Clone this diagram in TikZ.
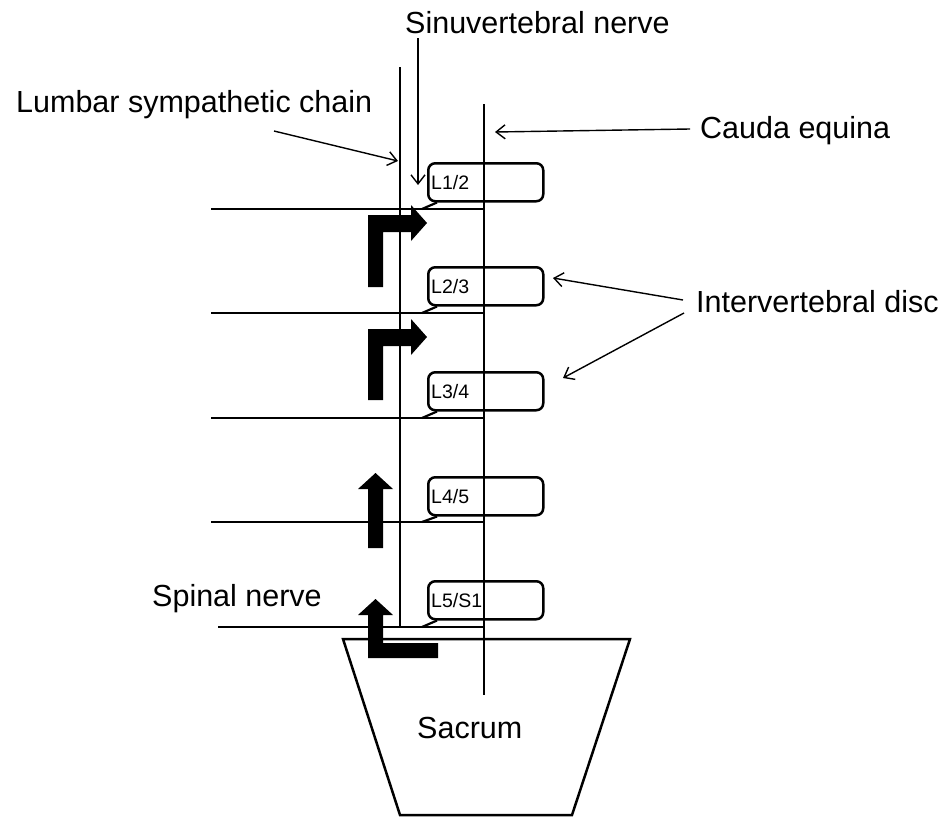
\documentclass[tikz,border=0pt]{standalone}
\usepackage{fontspec}
\setmainfont{Liberation Sans}
\usetikzlibrary{arrows.meta}
\begin{document}
\begin{tikzpicture}[x=1pt,y=-1pt,
  lbl/.style={font=\fontsize{30.5}{35}\selectfont, inner sep=0pt, anchor=base west},
  dlbl/.style={font=\fontsize{19.5}{22}\selectfont, inner sep=0pt, anchor=base west},
  nerveline/.style={line width=2.9pt},
  tail/.style={line width=2.2pt},
  disc/.style={draw, line width=2.5pt, rounded corners=7pt, minimum width=115pt, minimum height=38pt, inner sep=0pt, anchor=north west},
  ann/.style={line width=1.4pt, -{Straight Barb[length=9pt,width=14pt,line width=1.4pt]}},
  blk/.style={fill=black, draw=none}
]
\useasboundingbox (0,0) rectangle (945,817);

% vertical lines
\coordinate (chainTop) at (400,67);
\coordinate (chainBot) at (400,627);
\coordinate (caudaTop) at (484,104);
\coordinate (caudaBot) at (484,695);
\draw[nerveline] (chainTop) -- (chainBot);
\draw[nerveline] (caudaTop) -- (caudaBot);

% nerve lines
\coordinate (n1a) at (211,209); \coordinate (n1b) at (484,209);
\coordinate (n2a) at (211,313); \coordinate (n2b) at (484,313);
\coordinate (n3a) at (211,418); \coordinate (n3b) at (484,418);
\coordinate (n4a) at (211,522); \coordinate (n4b) at (484,522);
\coordinate (n5a) at (218,627); \coordinate (n5b) at (484,627);
\foreach \k in {1,...,5} {\draw[nerveline] (n\k a) -- (n\k b);}

% discs
\node[disc] (d1) at (427,162) {};
\node[disc] (d2) at (427,266) {};
\node[disc] (d3) at (427,371) {};
\node[disc] (d4) at (427,476) {};
\node[disc] (d5) at (427,580) {};
\node[dlbl] (t1) at (431,189) {L1/2};
\node[dlbl] (t2) at (431,293) {L2/3};
\node[dlbl] (t3) at (431,398) {L3/4};
\node[dlbl] (t4) at (431,503) {L4/5};
\node[dlbl] (t5) at (431,607) {L5/S1};

% tails
\foreach \k in {1,...,5} {
  \draw[tail] ([xshift=10pt]d\k.south west) -- ([xshift=-5pt]d\k.south west |- n\k a);
}

% sacrum
\draw[line width=2.5pt] (343,639) -- (630,639) -- (572,815) -- (400,815) -- cycle;

% black arrows
\fill[blk] (368,287) -- (368,215) -- (411,215) -- (411,205) -- (427,223) -- (411,241) -- (411,232) -- (383,232) -- (383,287) -- cycle;
\fill[blk] (368,400) -- (368,329) -- (411,329) -- (411,319) -- (427,337) -- (411,355) -- (411,346) -- (383,346) -- (383,400) -- cycle;
\fill[blk] (368,548) -- (368,489) -- (358,489) -- (375.5,473) -- (393,489) -- (383,489) -- (383,548) -- cycle;
\fill[blk] (358,615) -- (375.5,599) -- (393,615) -- (383,615) -- (383,643) -- (438,643) -- (438,658) -- (368,658) -- (368,615) -- cycle;

% labels
\node[lbl] (lsc) at (16,112) {Lumbar sympathetic chain};
\node[lbl] (svn) at (405,33) {Sinuvertebral nerve};
\node[lbl] (ce) at (700,138) {Cauda equina};
\node[lbl] (ivd) at (696,312) {Intervertebral disc};
\node[lbl] (sn) at (152,606) {Spinal nerve};
\node[lbl] (sac) at (417,738) {Sacrum};

% annotation arrows
\coordinate (lscS) at (274,131); \coordinate (lscE) at (398,161);
\coordinate (svnS) at (418,38); \coordinate (svnE) at (418,185);
\coordinate (ceS) at (690,129); \coordinate (ceE) at (495,132);
\coordinate (ivdS1) at (683,300); \coordinate (ivdE1) at (553,278);
\coordinate (ivdS2) at (684,313); \coordinate (ivdE2) at (563,378);
\draw[ann] (lscS) -- (lscE);
\draw[ann] (svnS) -- (svnE);
\draw[ann] (ceS) -- (ceE);
\draw[ann] (ivdS1) -- (ivdE1);
\draw[ann] (ivdS2) -- (ivdE2);
\end{tikzpicture}
\end{document}
